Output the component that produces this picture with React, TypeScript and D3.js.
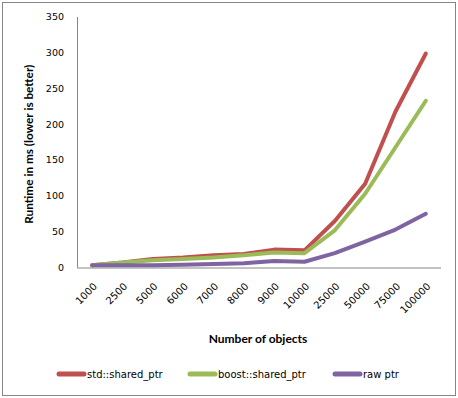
import React from 'react';
import * as d3 from 'd3';

// objects count on the x axis
const categories = ['1000', '2500', '5000', '6000', '7000', '8000', '9000', '10000', '25000', '50000', '75000', '100000'];
const stdShared = [3, 7, 12, 14, 17, 19, 25, 24, 65, 117, 218, 299];
const boostShared = [3, 7, 10, 12, 14, 17, 21, 20, 52, 103, 168, 233];
const rawPtr = [3, 3, 3, 4, 5, 6, 9, 8, 20, 36, 53, 75];
const yTicks = [0, 50, 100, 150, 200, 250, 300, 350];

const series = [
  { name: 'std::shared_ptr', values: stdShared, color: '#C0504D' },
  { name: 'boost::shared_ptr', values: boostShared, color: '#9BBB59' },
  { name: 'raw ptr', values: rawPtr, color: '#8064A2' },
];

const W = 458;
const H = 398;
const plot = { left: 77, right: 441, top: 17, bottom: 267.5 };
const tickFont = '"DejaVu Sans", Verdana, sans-serif';
const titleFont = 'Lato, "Open Sans", sans-serif';

export default function App() {
  const x = d3.scalePoint<string>().domain(categories).range([plot.left, plot.right]).padding(0.5);
  const y = d3.scaleLinear().domain([0, 350]).range([plot.bottom, plot.top]);
  const line = d3
    .line<number>()
    .x((_, i) => x(categories[i]) as number)
    .y((d) => y(d));

  const legendX = [57, 188, 333];

  return (
    <div style={{ position: 'absolute', left: 0, top: 0 }}>
      <svg width={W} height={H} style={{ display: 'block', background: '#fff' }}>
        <rect x={2.5} y={2.5} width={453} height={393} fill="#fff" stroke="#868686" strokeWidth={1} />

        {/* y axis */}
        <line x1={plot.left + 0.5} x2={plot.left + 0.5} y1={plot.top} y2={plot.bottom} stroke="#868686" />
        {yTicks.map((t) => (
          <text key={t} x={64} y={y(t)} dy="0.35em" textAnchor="end" fontFamily={tickFont} fontSize={9.5} fill="#000">
            {t}
          </text>
        ))}
        <text
          transform={`translate(33,${(plot.top + plot.bottom) / 2 + 2}) rotate(-90)`}
          textAnchor="middle"
          fontFamily={titleFont}
          fontWeight="bold"
          fontSize={11.8}
        >
          Runtime in ms (lower is better)
        </text>

        {/* x axis */}
        <line x1={plot.left} x2={plot.right} y1={plot.bottom + 0.5} y2={plot.bottom + 0.5} stroke="#868686" />
        {categories.map((c) => (
          <text
            key={c}
            transform={`translate(${(x(c) as number) + 3},${plot.bottom + 17}) rotate(-45)`}
            textAnchor="end"
            dy="0.35em"
            fontFamily={tickFont}
            fontSize={10}
          >
            {c}
          </text>
        ))}
        <text x={258} y={343} textAnchor="middle" fontFamily={titleFont} fontWeight="bold" fontSize={12}>
          Number of objects
        </text>

        {/* series */}
        {series.map((s) => (
          <path
            key={s.name}
            d={line(s.values) || ''}
            fill="none"
            stroke={s.color}
            strokeWidth={4}
            strokeLinecap="round"
            strokeLinejoin="round"
          />
        ))}

        {/* legend */}
        {series.map((s, i) => (
          <g key={s.name} transform={`translate(${legendX[i]},374)`}>
            <line x1={2} x2={27} y1={0} y2={0} stroke={s.color} strokeWidth={5} strokeLinecap="round" />
            <text x={30} dy="0.35em" fontFamily={tickFont} fontSize={10}>
              {s.name}
            </text>
          </g>
        ))}
      </svg>
    </div>
  );
}
